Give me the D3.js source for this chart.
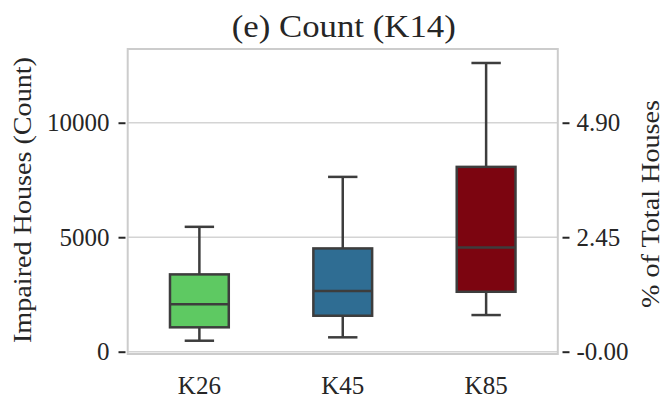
<!DOCTYPE html>
<html>
<head>
<meta charset="utf-8">
<script src="https://cdn.jsdelivr.net/npm/d3@7"></script>
<style>
  html, body { margin: 0; padding: 0; background: #fff; }
  svg { display: block; }
  text { font-family: "Liberation Serif", "DejaVu Serif", serif; fill: #262626; }
</style>
</head>
<body>
<svg id="chart" width="669" height="398"></svg>
<script>
// ---- data ----
const categories   = ["K26", "K45", "K85"];
const whiskerLow   = [480, 628, 1601];
const q1Values     = [1065, 1571, 2618];
const medianValues = [2068, 2648, 4555];
const q3Values     = [3377, 4511, 8072];
const whiskerHigh  = [5454, 7635, 12609];
const boxColors    = ["#5ec962", "#2f6d93", "#7c0510"];
const leftTicks    = [0, 5000, 10000];
const rightTicks   = [0, 2.45, 4.90];
const rightTickLabels = ["-0.00", "2.45", "4.90"];
const totalHouses  = 204082; // 10000 houses = 4.90 %
const yDomain      = [-100, 13220];
const titleText    = "(e) Count (K14)";
const leftLabel    = "Impaired Houses (Count)";
const rightLabel   = "% of Total Houses";

// ---- layout ----
const svg = d3.select("#chart");
const plot = { left: 127.7, right: 557.8, top: 49, bottom: 354 };

const x = d3.scaleBand().domain(categories).range([plot.left, plot.right]).padding(0);
const y = d3.scaleLinear().domain(yDomain).range([plot.bottom, plot.top]);
const yPct = d3.scaleLinear()
  .domain(yDomain.map(v => v / totalHouses * 100))
  .range([plot.bottom, plot.top]);

// grid lines
svg.append("g").selectAll("line").data(leftTicks).join("line")
  .attr("x1", plot.left).attr("x2", plot.right)
  .attr("y1", d => y(d)).attr("y2", d => y(d))
  .attr("stroke", "#d4d4d4").attr("stroke-width", 1.6);

// frame (spines)
svg.append("rect")
  .attr("x", plot.left).attr("y", plot.top)
  .attr("width", plot.right - plot.left).attr("height", plot.bottom - plot.top)
  .attr("fill", "none").attr("stroke", "#cccccc").attr("stroke-width", 2);

// boxes
const rows = categories.map((c, i) => ({
  cat: c, lo: whiskerLow[i], q1: q1Values[i], med: medianValues[i],
  q3: q3Values[i], hi: whiskerHigh[i], color: boxColors[i]
}));
const boxW = x.bandwidth() * 0.41;
const capW = boxW / 2;
const edge = "#3d3d3d", lw = 2.5;

const g = svg.append("g").selectAll("g").data(rows).join("g")
  .attr("transform", d => `translate(${x(d.cat) + x.bandwidth() / 2},0)`);

g.append("line").attr("x1", 0).attr("x2", 0)
  .attr("y1", d => y(d.q3)).attr("y2", d => y(d.hi))
  .attr("stroke", edge).attr("stroke-width", lw);
g.append("line").attr("x1", 0).attr("x2", 0)
  .attr("y1", d => y(d.q1)).attr("y2", d => y(d.lo))
  .attr("stroke", edge).attr("stroke-width", lw);
g.append("line").attr("x1", -capW / 2).attr("x2", capW / 2)
  .attr("y1", d => y(d.hi)).attr("y2", d => y(d.hi))
  .attr("stroke", edge).attr("stroke-width", lw);
g.append("line").attr("x1", -capW / 2).attr("x2", capW / 2)
  .attr("y1", d => y(d.lo)).attr("y2", d => y(d.lo))
  .attr("stroke", edge).attr("stroke-width", lw);
g.append("rect")
  .attr("x", -boxW / 2).attr("width", boxW)
  .attr("y", d => y(d.q3)).attr("height", d => y(d.q1) - y(d.q3))
  .attr("fill", d => d.color).attr("stroke", edge).attr("stroke-width", lw);
g.append("line").attr("x1", -boxW / 2).attr("x2", boxW / 2)
  .attr("y1", d => y(d.med)).attr("y2", d => y(d.med))
  .attr("stroke", edge).attr("stroke-width", lw);

// left axis
const leftAxis = svg.append("g")
  .attr("transform", `translate(125.5,0)`)
  .call(d3.axisLeft(y).tickValues(leftTicks).tickFormat(d3.format("d")).tickSizeInner(7).tickSizeOuter(0).tickPadding(9));
leftAxis.select(".domain").remove();

// right axis
const rightAxis = svg.append("g")
  .attr("transform", `translate(562.5,0)`)
  .call(d3.axisRight(yPct).tickValues(rightTicks).tickFormat((d, i) => rightTickLabels[i]).tickSizeInner(7).tickSizeOuter(0).tickPadding(7));
rightAxis.select(".domain").remove();

// bottom axis (labels only)
const bottomAxis = svg.append("g")
  .attr("transform", `translate(0,${plot.bottom})`)
  .call(d3.axisBottom(x).tickSize(0).tickPadding(22));
bottomAxis.select(".domain").remove();

[leftAxis, rightAxis, bottomAxis].forEach(a => {
  a.selectAll(".tick line").attr("stroke", "#262626").attr("stroke-width", 2);
  a.selectAll(".tick text").attr("font-size", 25).attr("fill", "#262626")
    .style("font-family", '"Liberation Serif", "DejaVu Serif", serif');
});

// title
svg.append("text")
  .attr("x", (plot.left + plot.right) / 2 + 1).attr("y", 37)
  .attr("text-anchor", "middle").attr("font-size", 31)
  .attr("textLength", 224).attr("lengthAdjust", "spacingAndGlyphs")
  .text(titleText);

// axis labels
svg.append("text")
  .attr("transform", "translate(31,200) rotate(-90)")
  .attr("text-anchor", "middle").attr("font-size", 25)
  .attr("textLength", 286).attr("lengthAdjust", "spacingAndGlyphs")
  .text(leftLabel);
svg.append("text")
  .attr("transform", "translate(659,204) rotate(-90)")
  .attr("text-anchor", "middle").attr("font-size", 25)
  .attr("textLength", 208).attr("lengthAdjust", "spacingAndGlyphs")
  .text(rightLabel);
</script>
</body>
</html>
